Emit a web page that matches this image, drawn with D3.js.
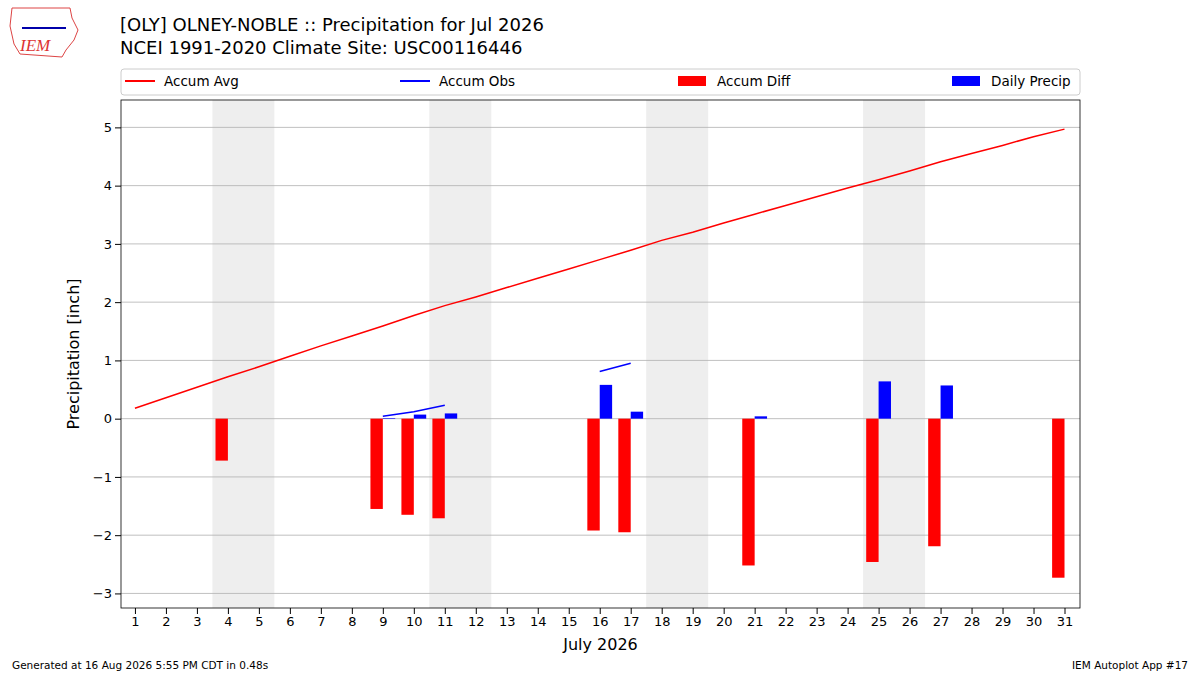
<!DOCTYPE html>
<html><head><meta charset="utf-8">
<script src="https://cdn.jsdelivr.net/npm/d3@7"></script>
<style>body{margin:0;background:#fff;font-family:"DejaVu Sans",sans-serif;}</style>
</head><body><div id="chart"></div>
<script>
const days = d3.range(1, 32);
const accumAvg = [0.18,0.36,0.54,0.72,0.89,1.07,1.25,1.42,1.59,1.77,1.94,2.09,2.25,2.41,2.57,2.73,2.89,3.06,3.20,3.36,3.51,3.66,3.81,3.96,4.10,4.25,4.41,4.55,4.69,4.84,4.97];
// observed accumulation, null where missing
const accumObs = [null,null,null,0,null,null,null,null,0.04,0.12,0.23,null,null,null,null,0.81,0.95,null,null,null,0.99,null,null,null,1.64,null,2.22,null,null,null,2.24];
const accumDiff = [null,null,null,-0.72,null,null,null,null,-1.55,-1.65,-1.71,null,null,null,null,-1.92,-1.95,null,null,null,-2.52,null,null,null,-2.46,null,-2.19,null,null,null,-2.73];
const dailyPrecip = [null,null,null,0,null,null,null,null,0.01,0.07,0.09,null,null,null,null,0.58,0.12,null,null,null,0.04,null,null,null,0.64,null,0.57,null,null,null,0];
const weekends = [[3.5,5.5],[10.5,12.5],[17.5,19.5],[24.5,26.5]];
const yTicks = [-3,-2,-1,0,1,2,3,4,5];

const W = 1200, H = 675;
const margin = { top: 100, right: 120, bottom: 67, left: 121 };
const width = W - margin.left - margin.right;
const height = H - margin.top - margin.bottom;

const svg = d3.select("#chart").append("svg").attr("width", W).attr("height", H);
const g = svg.append("g").attr("transform", `translate(${margin.left},${margin.top})`);

const x = d3.scaleLinear().domain([0.55, 31.5]).range([0, width]);
const y = d3.scaleLinear().domain([-3.25, 5.47]).range([height, 0]);

// weekend shading
g.selectAll(".wk").data(weekends).enter().append("rect")
  .attr("x", d => x(d[0])).attr("width", d => x(d[1]) - x(d[0]))
  .attr("y", 0).attr("height", height).attr("fill", "#eeeeee");

// grid lines
g.selectAll(".grid").data(yTicks).enter().append("line")
  .attr("x1", 0).attr("x2", width).attr("y1", d => y(d)).attr("y2", d => y(d))
  .attr("stroke", "#b0b0b0").attr("stroke-width", 0.8);

// bars
const bw = 0.4;
g.selectAll(".diff").data(days.filter((d, i) => accumDiff[i] !== null)).enter().append("rect")
  .attr("x", d => x(d - bw)).attr("width", x(bw) - x(0))
  .attr("y", d => y(Math.max(0, accumDiff[d - 1])))
  .attr("height", d => Math.abs(y(accumDiff[d - 1]) - y(0)))
  .attr("fill", "red");
g.selectAll(".daily").data(days.filter((d, i) => dailyPrecip[i] !== null)).enter().append("rect")
  .attr("x", d => x(d)).attr("width", x(bw) - x(0))
  .attr("y", d => y(dailyPrecip[d - 1]))
  .attr("height", d => y(0) - y(dailyPrecip[d - 1]))
  .attr("fill", "blue");

// lines
g.append("path").datum(days)
  .attr("d", d3.line().x(d => x(d)).y(d => y(accumAvg[d - 1])))
  .attr("fill", "none").attr("stroke", "red").attr("stroke-width", 1.5);
g.append("path").datum(days)
  .attr("d", d3.line().defined(d => accumObs[d - 1] !== null).x(d => x(d)).y(d => y(accumObs[d - 1])))
  .attr("fill", "none").attr("stroke", "blue").attr("stroke-width", 1.5);

// axes
const xAxis = g.append("g").attr("transform", `translate(0,${height})`)
  .call(d3.axisBottom(x).tickValues(days).tickFormat(d3.format("d")).tickSizeOuter(0));
const yAxis = g.append("g").call(d3.axisLeft(y).tickValues(yTicks).tickFormat(d => d < 0 ? "\u2212" + Math.abs(d) : d).tickSizeOuter(0));
[xAxis, yAxis].forEach(a => {
  a.selectAll("text").attr("font-size", 13).attr("font-family", "DejaVu Sans").attr("fill", "#000");
  a.selectAll("line").attr("stroke", "#000");
  a.select(".domain").remove();
});
g.append("rect").attr("width", width).attr("height", height).attr("fill", "none").attr("stroke", "#000").attr("stroke-width", 0.8);

g.append("text").attr("x", width / 2).attr("y", height + 42).attr("text-anchor", "middle")
  .attr("font-size", 16).text("July 2026");
g.append("text").attr("transform", "rotate(-90)").attr("x", -height / 2).attr("y", -42)
  .attr("text-anchor", "middle").attr("font-size", 16).text("Precipitation [inch]");

// legend
const lg = svg.append("g");
lg.append("rect").attr("x", 121).attr("y", 69).attr("width", 959).attr("height", 26)
  .attr("fill", "#fff").attr("stroke", "#ccc").attr("rx", 3);
const legendItems = [
  { label: "Accum Avg", color: "red", type: "line", x: 125 },
  { label: "Accum Obs", color: "blue", type: "line", x: 400 },
  { label: "Accum Diff", color: "red", type: "rect", x: 678 },
  { label: "Daily Precip", color: "blue", type: "rect", x: 952 }
];
legendItems.forEach(it => {
  if (it.type === "line") lg.append("line").attr("x1", it.x).attr("x2", it.x + 30).attr("y1", 81).attr("y2", 81).attr("stroke", it.color).attr("stroke-width", 2);
  else lg.append("rect").attr("x", it.x).attr("y", 76).attr("width", 28).attr("height", 10).attr("fill", it.color);
  lg.append("text").attr("x", it.x + 39).attr("y", 86).attr("font-size", 13.5).text(it.label);
});

// titles
svg.append("text").attr("x", 120).attr("y", 31).attr("font-size", 18).text("[OLY] OLNEY-NOBLE :: Precipitation for Jul 2026");
svg.append("text").attr("x", 120).attr("y", 54).attr("font-size", 18).text("NCEI 1991-2020 Climate Site: USC00116446");
svg.append("text").attr("x", 12).attr("y", 669).attr("font-size", 10.5).text("Generated at 16 Aug 2026 5:55 PM CDT in 0.48s");
svg.append("text").attr("x", 1188).attr("y", 669).attr("font-size", 10.5).attr("text-anchor", "end").text("IEM Autoplot App #17");

// logo
const logo = svg.append("g");
logo.append("path").attr("d", "M12,8 L70,8 L72,18 L78,30 L74,40 L66,50 L62,57 L20,54 L14,44 L10,26 Z")
  .attr("fill", "none").attr("stroke", "#d44").attr("stroke-width", 1);
logo.append("line").attr("x1", 22).attr("x2", 66).attr("y1", 28).attr("y2", 28).attr("stroke", "#00a").attr("stroke-width", 2);
logo.append("text").attr("x", 20).attr("y", 51).attr("font-size", 17).attr("font-style", "italic")
  .attr("font-family", "Liberation Serif").attr("fill", "#d33").text("IEM");
</script></body></html>
